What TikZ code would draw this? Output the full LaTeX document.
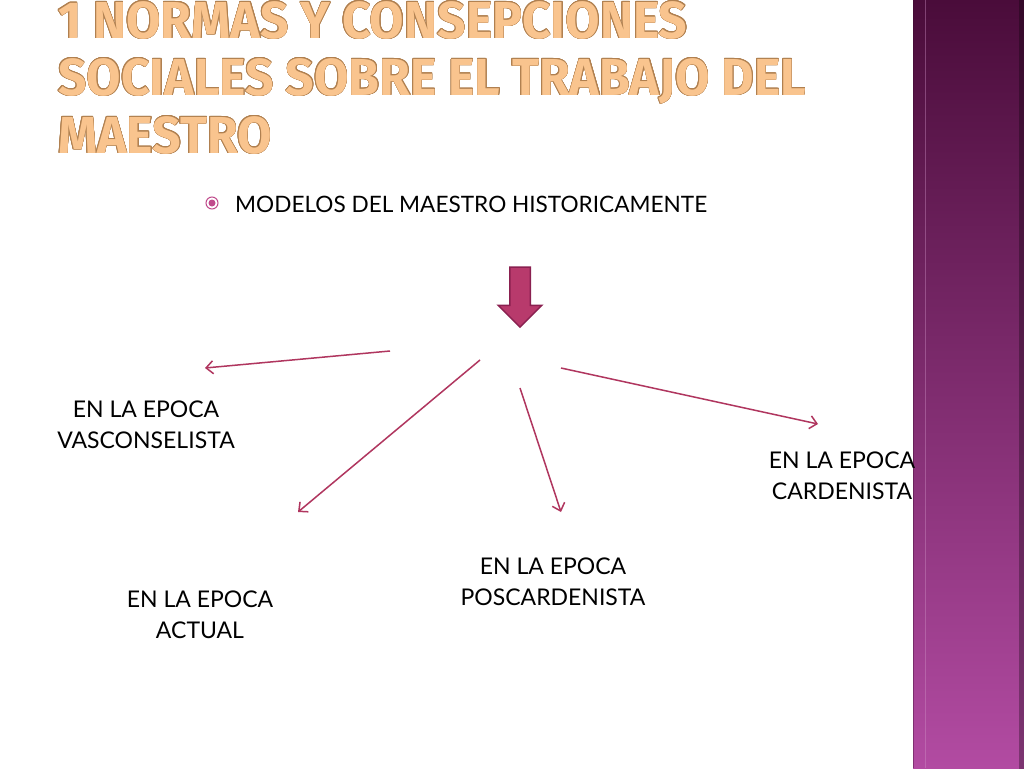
\documentclass[tikz,border=0pt]{standalone}
\usepackage{fontspec}
\setmainfont{Lato}
\newfontfamily\titlefont[FakeStretch=0.96]{Fira Sans}
\usepackage{contour}
\contourlength{0.5pt}
\usetikzlibrary{arrows.meta,shapes.arrows}

\definecolor{titlefill}{HTML}{F9C48E}
\definecolor{titleline}{HTML}{B08050}
\definecolor{linkcol}{HTML}{B0365F}
\definecolor{bartop}{HTML}{4A0C3A}
\definecolor{barbot}{HTML}{B24BA2}
\definecolor{arrowfill}{HTML}{B83A6C}
\definecolor{arrowline}{HTML}{8A2050}
\definecolor{bulletcol}{HTML}{C04A8C}

\begin{document}
\begin{tikzpicture}[x=1pt,y=-1pt,
		heading/.style={anchor=base west,inner sep=0pt,text=titlefill,
				font=\titlefont\bfseries\fontsize{52}{52}\selectfont},
		epoca/.style={align=center,inner sep=0pt,font=\fontsize{23}{31}\selectfont},
		link/.style={draw=linkcol,line width=1.5pt,-{Straight Barb[length=7pt,width=13pt]}}]
	\fill[white] (0,0) rectangle (1024,768);
	\useasboundingbox (0,0) rectangle (1024,768);

	% side bar
	\shade[top color=bartop,bottom color=barbot] (913,0) rectangle (1024,768);
	\shade[top color=bartop!70!black,bottom color=barbot!70!black] (1019,0) rectangle (1024,768);
	\draw[bartop!80!black,opacity=0.4,line width=1pt] (913.5,0) -- (913.5,768);
	\draw[barbot!60!white,opacity=0.4,line width=0.8pt] (925,0) -- (925,768);

	% title
	\node[heading] (title1) at (58,38) {\contour{titleline}{1 NORMAS Y CONSEPCIONES}};
	\node[heading] (title2) at (58,95) {\contour{titleline}{SOCIALES SOBRE EL TRABAJO DEL}};
	\node[heading] (title3) at (58,153) {\contour{titleline}{MAESTRO}};

	% bullet line
	\node[circle,draw=bulletcol,line width=1pt,minimum size=12pt,inner sep=0pt] (bullet) at (212,203) {};
	\fill[bulletcol] (bullet.center) circle (3.5);
	\node[anchor=base west,inner sep=0pt,font=\fontsize{22.6}{28}\selectfont] (modelos) at (235,212)
	{MODELOS DEL MAESTRO HISTORICAMENTE};

	\node[single arrow,shape border rotate=270,fill=arrowfill,draw=arrowline,line width=1.5pt,
		inner sep=9.5pt,minimum height=60pt,single arrow head extend=11.5pt] (bigarrow) at (520,292) {};

	% labels
	\foreach \name/\x/\y/\txt in {vasc/146/425/VASCONSELISTA,actual/200/615/ACTUAL,
			posc/553/582/POSCARDENISTA,card/842/476/CARDENISTA} {
			\node[epoca] (\name) at (\x,\y) {EN LA EPOCA\\\txt};
		}

	% connectors
	\coordinate (hubL) at (390,351);
	\coordinate (hubSW) at (480,360);
	\coordinate (hubS) at (520,388);
	\coordinate (hubE) at (561,368);
	\coordinate (vascTip) at (205,368);
	\coordinate (actualTip) at (298,512);
	\coordinate (poscTip) at (561,512);
	\coordinate (cardTip) at (818,424);
	\draw[link] (hubL) -- (vascTip);
	\draw[link] (hubSW) -- (actualTip);
	\draw[link] (hubS) -- (poscTip);
	\draw[link] (hubE) -- (cardTip);
\end{tikzpicture}
\end{document}
